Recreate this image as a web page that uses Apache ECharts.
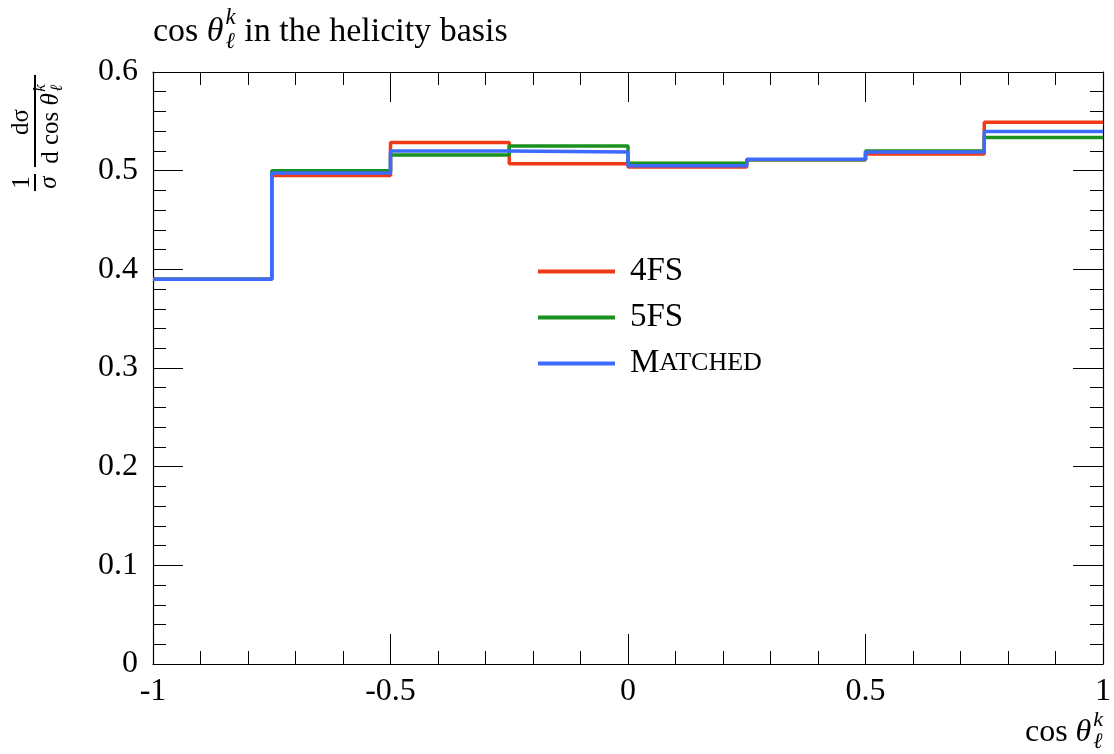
<!DOCTYPE html>
<html><head><meta charset="utf-8">
<script src="https://cdn.jsdelivr.net/npm/echarts@6/dist/echarts.min.js"></script>
<style>html,body{margin:0;padding:0;background:#fff}#c{width:1114px;height:754px}</style>
</head><body><div id="c"></div>
<script>
// ---- data ----
const binEdges = [-1, -0.75, -0.5, -0.25, 0, 0.25, 0.5, 0.75, 1];
const values4FS = [0.390, 0.495, 0.5285, 0.507, 0.5037, 0.511, 0.517, 0.549];
const values5FS = [0.390, 0.500, 0.516, 0.525, 0.5075, 0.511, 0.520, 0.5336];
const valuesMatched = [0.390, 0.4977, 0.520, 0.519, 0.505, 0.5115, 0.519, 0.5397];
const seriesNames = ['4FS', '5FS', 'Matched'];
const seriesColors = ['#f03a17', '#1a901e', '#3d6bff'];
const titleRest = ' in the helicity basis';

// ---- helpers ----
const FONT = '"Liberation Serif","DejaVu Serif",serif';
const ctx = document.createElement('canvas').getContext('2d');
function tw(t, size, italic) { ctx.font = (italic ? 'italic ' : '') + size + 'px ' + FONT; return ctx.measureText(t).width; }
function txt(t, x, y, size, italic, align) {
  return { type: 'text', x: x, y: y, silent: true,
    style: { text: t, fontSize: size, fontFamily: FONT, fontStyle: italic ? 'italic' : 'normal',
      fill: '#000', align: align || 'left', verticalAlign: 'middle' } };
}
function mathCos(prefix, suffix, x, y, size) {
  const els = []; let cx = x;
  els.push(txt(prefix, cx, y, size, false)); cx += tw(prefix, size, false);
  els.push(txt('θ', cx, y, size, true)); cx += tw('θ', size, true) + size * 0.06;
  const s = Math.round(size * 0.68);
  els.push(txt('k', cx, y - size * 0.40, s, true));
  els.push(txt('ℓ', cx, y + size * 0.28, s, true));
  cx += Math.max(tw('k', s, true), tw('ℓ', s, true));
  if (suffix) { els.push(txt(suffix, cx, y, size, false)); cx += tw(suffix, size, false); }
  return { els: els, width: cx - x };
}
function mathWidth(prefix, suffix, size) {
  const s = Math.round(size * 0.68);
  return tw(prefix, size) + tw('θ', size, true) + size * 0.06 + Math.max(tw('k', s, true), tw('ℓ', s, true)) + (suffix ? tw(suffix, size) : 0);
}
function stepData(vals) { return binEdges.map((e, i) => [e, vals[Math.min(i, vals.length - 1)]]); }

// ---- graphic text ----
const graphics = [];
mathCos('cos ', ' ' + titleRest.trim(), 153, 32, 34).els.forEach(e => graphics.push(e));
const xnW = mathWidth('cos ', '', 32);
mathCos('cos ', '', 1103 - xnW, 733, 32).els.forEach(e => graphics.push(e));
(function () {
  const size = 25;
  const ch = [];
  ch.push(txt('1', 8.5, -13, size, false, 'center'));
  ch.push({ type: 'line', silent: true, shape: { x1: 0, y1: 0, x2: 17, y2: 0 }, style: { stroke: '#000', lineWidth: 2 } });
  ch.push(txt('σ', 8.5, 14, size, true, 'center'));
  ch.push(txt('dσ', 69, -14, size, false, 'center'));
  ch.push({ type: 'line', silent: true, shape: { x1: 24, y1: 0, x2: 116, y2: 0 }, style: { stroke: '#000', lineWidth: 2 } });
  const w = mathWidth('d cos ', '', size);
  mathCos('d cos ', '', 67 - w / 2, 16, size).els.forEach(e => ch.push(e));
  graphics.push({ type: 'group', x: 35, y: 191, rotation: Math.PI / 2, children: ch });
})();

const axisCommon = {
  axisLine: { show: true, onZero: false, lineStyle: { color: '#000', width: 1.2 } },
  axisTick: { show: true, inside: true, length: 30, lineStyle: { color: '#000', width: 1 } },
  minorTick: { show: true, splitNumber: 5, length: 13, lineStyle: { color: '#000', width: 1 } },
  splitLine: { show: false },
  minorSplitLine: { show: false }
};
const labelStyle = { color: '#000', fontSize: 32, fontFamily: FONT };

const option = {
  animation: false,
  backgroundColor: '#fff',
  grid: { left: 153, right: 10, top: 72, bottom: 90, containLabel: false },
  xAxis: [
    Object.assign({ type: 'value', position: 'bottom', min: -1, max: 1, interval: 0.5,
      axisLabel: Object.assign({ formatter: v => String(v), margin: 12 }, labelStyle) }, axisCommon),
    Object.assign({ type: 'value', position: 'top', min: -1, max: 1, interval: 0.5,
      axisLabel: { show: false } }, axisCommon)
  ],
  yAxis: [
    Object.assign({ type: 'value', position: 'left', min: 0, max: 0.6, interval: 0.1,
      axisLabel: Object.assign({ formatter: v => String(Math.round(v * 10) / 10), margin: 15 }, labelStyle) }, axisCommon),
    Object.assign({ type: 'value', position: 'right', min: 0, max: 0.6, interval: 0.1,
      axisLabel: { show: false } }, axisCommon)
  ],
  legend: {
    orient: 'vertical', left: 533, top: 250, itemGap: 13,
    icon: 'rect', itemWidth: 77, itemHeight: 4,
    data: seriesNames,
    textStyle: { color: '#000', fontSize: 33, fontFamily: FONT, lineHeight: 32, padding: [0, 0, 0, 10],
      rich: { a: { fontSize: 33, fontFamily: FONT, color: '#000' }, b: { fontSize: 26, fontFamily: FONT, color: '#000' } } },
    formatter: function (n) { return n === 'Matched' ? '{a|M}{b|ATCHED}' : n; }
  },
  series: [values4FS, values5FS, valuesMatched].map((vals, i) => ({
    name: seriesNames[i], type: 'line', step: 'end', symbol: 'none', showSymbol: false,
    xAxisIndex: 0, yAxisIndex: 0,
    data: stepData(vals), color: seriesColors[i],
    lineStyle: { color: seriesColors[i], width: 3.5 }, z: 2 + i
  })),
  graphic: graphics
};
const chart = echarts.init(document.getElementById('c'), null, { renderer: 'canvas' });
chart.setOption(option);
</script></body></html>
